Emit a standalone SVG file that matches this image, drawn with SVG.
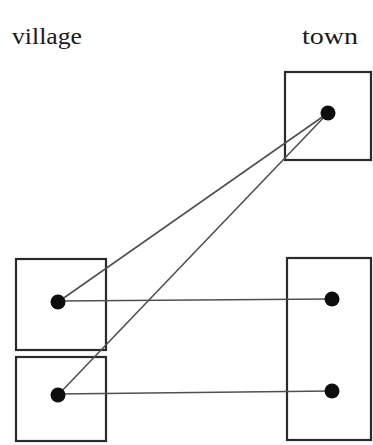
<svg xmlns="http://www.w3.org/2000/svg" width="373" height="445" viewBox="0 0 373 445">
  <style>
    .label { font-family: "Liberation Serif", "Times New Roman", serif; font-size: 23px; fill: #1a1a1a; }
    .box { fill: #fff; stroke: #2a2a2a; stroke-width: 2.2; }
    .dot { fill: #0d0d0d; }
    .link { stroke: #505050; stroke-width: 1.6; fill: none; }
  </style>
  <rect width="373" height="445" fill="#fff"/>
  <text class="label" x="12" y="44" textLength="70" lengthAdjust="spacingAndGlyphs">village</text>
  <text class="label" x="302" y="44" textLength="56" lengthAdjust="spacingAndGlyphs">town</text>

  <g id="town-top">
    <rect class="box" x="285" y="72" width="86" height="88"/>
  </g>
  <g id="town-bottom">
    <rect class="box" x="287" y="258" width="84" height="182"/>
  </g>
  <g id="village-1">
    <rect class="box" x="16" y="259" width="90" height="91"/>
  </g>
  <g id="village-2">
    <rect class="box" x="16" y="357" width="90" height="84"/>
  </g>

  <g id="connectors">
    <line class="link" x1="58" y1="302" x2="328" y2="113"/>
    <line class="link" x1="58" y1="395" x2="328" y2="113"/>
    <line class="link" x1="58" y1="301" x2="332" y2="299"/>
    <line class="link" x1="58" y1="394" x2="332" y2="391"/>
  </g>

  <g id="dots">
    <circle class="dot" cx="328" cy="113" r="7.5"/>
    <circle class="dot" cx="332" cy="299" r="7.5"/>
    <circle class="dot" cx="332" cy="391" r="7.5"/>
    <circle class="dot" cx="58" cy="302" r="7.5"/>
    <circle class="dot" cx="58" cy="395" r="7.5"/>
  </g>
</svg>
